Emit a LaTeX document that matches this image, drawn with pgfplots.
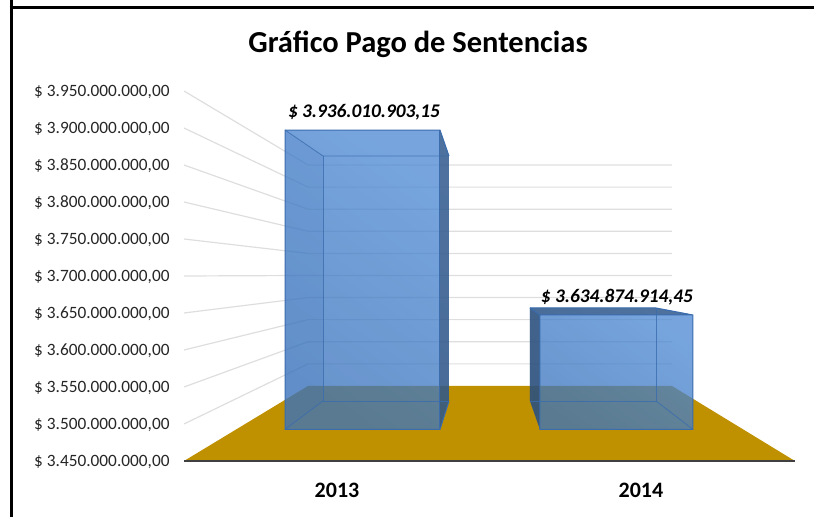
\documentclass[border=0pt]{standalone}
\usepackage{fontspec}
\setmainfont{Carlito}
\usepackage{pgfplots}
\pgfplotsset{compat=1.18}
\definecolor{barblue}{HTML}{437DC6}
\definecolor{barlo}{HTML}{3B74BD}
\definecolor{barhi}{HTML}{4E89D3}
\definecolor{baredge}{HTML}{3A6CAE}
\definecolor{bardark}{HTML}{26405F}
\definecolor{floorc}{HTML}{BF9000}
\definecolor{gridc}{HTML}{DEDEDE}
\begin{document}
\begin{tikzpicture}
\begin{axis}[
  scale only axis, width=814pt, height=517pt,
  xmin=0, xmax=814, ymin=3374.32, ymax=4072.97,
  axis line style={draw=none},
  major tick length=0pt,
  ytick={3450,3500,3550,3600,3650,3700,3750,3800,3850,3900,3950},
  yticklabels={{\$ 3.450.000.000,00},{\$ 3.500.000.000,00},{\$ 3.550.000.000,00},{\$ 3.600.000.000,00},{\$ 3.650.000.000,00},{\$ 3.700.000.000,00},{\$ 3.750.000.000,00},{\$ 3.800.000.000,00},{\$ 3.850.000.000,00},{\$ 3.900.000.000,00},{\$ 3.950.000.000,00}},
  y tick label style={anchor=east, xshift=173pt, yshift=-1pt, font=\fontsize{17.3}{19}\selectfont, text=black!85},
  xtick={337,641},
  xticklabels={2013,2014},
  x tick label style={anchor=center, yshift=27pt, font=\fontsize{22}{24}\selectfont\bfseries},
  clip=true,
]
% frame
\addplot[black, line width=3pt] coordinates {(11,517) (11,7.5e3)};
% side + back wall gridlines (front-scale value, back-wall value)
\addplot[gridc, line width=1.2pt] coordinates {(184,3500) (308,3581.2) (672,3581.2)};
\addplot[gridc, line width=1.2pt] coordinates {(184,3550) (308,3611.1) (672,3611.1)};
\addplot[gridc, line width=1.2pt] coordinates {(184,3600) (308,3641.0) (672,3641.0)};
\addplot[gridc, line width=1.2pt] coordinates {(184,3650) (308,3670.8) (672,3670.8)};
\addplot[gridc, line width=1.2pt] coordinates {(184,3700) (308,3700.7) (672,3700.7)};
\addplot[gridc, line width=1.2pt] coordinates {(184,3750) (308,3730.5) (672,3730.5)};
\addplot[gridc, line width=1.2pt] coordinates {(184,3800) (308,3760.4) (672,3760.4)};
\addplot[gridc, line width=1.2pt] coordinates {(184,3850) (308,3790.3) (672,3790.3)};
\addplot[gridc, line width=1.2pt] coordinates {(184,3900) (308,3820.1) (672,3820.1)};
\addplot[gridc, line width=1.2pt] coordinates {(184,3950) (308,3850.0) (672,3850.0)};
% floor
\addplot[fill=floorc, draw=none] coordinates {(184,3450) (795,3450) (672,3551.35) (308,3551.35) (184,3450)};
\addplot[black!75, line width=1.6pt] coordinates {(184,3450) (795,3450)};
% bar 2013
\addplot[left color=barlo, right color=barhi, shading angle=145, fill opacity=.77, draw=none] coordinates {(285,3897.3) (440,3897.3) (449,3862.2) (449,3531.1) (440,3492.6) (285,3492.6) (285,3897.3)};
\addplot[fill=bardark, fill opacity=.5, draw=none] coordinates {(440,3897.3) (449,3862.2) (449,3531.1) (440,3492.6) (440,3897.3)};
\addplot[fill=baredge, fill opacity=.14, draw=none] coordinates {(285,3897.3) (323,3862.2) (323,3531.1) (285,3492.6) (285,3897.3)};
\addplot[baredge, line width=.8pt, opacity=.8] coordinates {(285,3897.3) (323,3862.2) (449,3862.2)};
\addplot[baredge, line width=.8pt, opacity=.8] coordinates {(323,3862.2) (323,3531.1) (449,3531.1)};
\addplot[baredge, line width=.8pt, opacity=.8] coordinates {(285,3492.6) (323,3531.1)};
\addplot[baredge, line width=1pt] coordinates {(449,3862.2) (440,3897.3) (285,3897.3) (285,3492.6) (440,3492.6) (449,3531.1)};
\addplot[baredge, line width=1pt] coordinates {(440,3897.3) (440,3492.6)};
% bar 2014
\addplot[left color=barlo, right color=barhi, shading angle=145, fill opacity=.77, draw=none] coordinates {(530,3656.8) (656,3656.8) (693,3647.3) (693,3492.6) (540,3492.6) (530,3531.1) (530,3656.8)};
\addplot[fill=bardark, fill opacity=.5, draw=none] coordinates {(530,3656.8) (656,3656.8) (693,3647.3) (540,3647.3) (530,3656.8)};
\addplot[fill=bardark, fill opacity=.62, draw=none] coordinates {(530,3656.8) (540,3647.3) (540,3492.6) (530,3531.1) (530,3656.8)};
\addplot[baredge, line width=.8pt, opacity=.8] coordinates {(656,3656.8) (656,3531.1) (530,3531.1)};
\addplot[baredge, line width=.8pt, opacity=.8] coordinates {(656,3531.1) (693,3492.6)};
\addplot[baredge, line width=1pt] coordinates {(530,3656.8) (656,3656.8) (693,3647.3) (693,3492.6) (540,3492.6) (540,3647.3) (693,3647.3)};
\addplot[baredge, line width=1pt] coordinates {(530,3656.8) (540,3647.3)};
% frame top
\addplot[black, line width=3pt] coordinates {(9.5,4062.8) (814,4062.8)};
% texts
\node[font=\fontsize{30.5}{34}\selectfont\bfseries] at (axis cs:418,4012.5) {Gráfico Pago de Sentencias};
\node[font=\fontsize{19.3}{22}\selectfont\bfseries\itshape] at (axis cs:364,3922) {\$ 3.936.010.903,15};
\node[font=\fontsize{19.3}{22}\selectfont\bfseries\itshape] at (axis cs:617,3672) {\$ 3.634.874.914,45};
\end{axis}
\end{tikzpicture}
\end{document}
